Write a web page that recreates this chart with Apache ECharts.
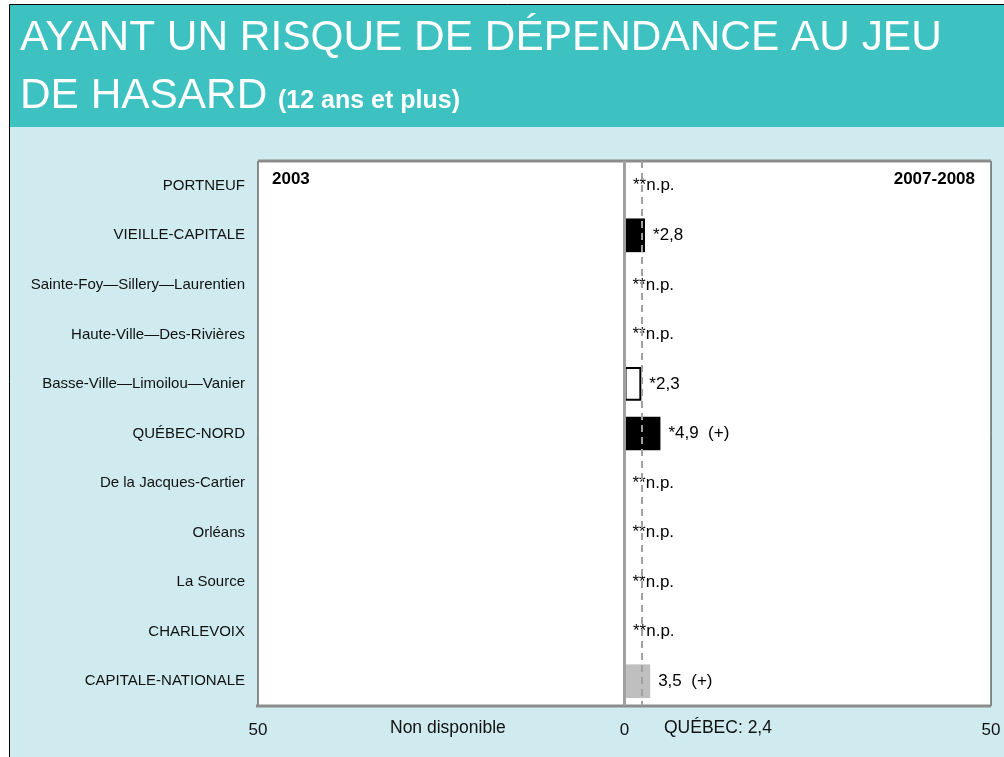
<!DOCTYPE html>
<html>
<head>
<meta charset="utf-8">
<script src="https://cdn.jsdelivr.net/npm/echarts@6/dist/echarts.min.js"></script>
<style>
  html, body { margin: 0; padding: 0; background: #ffffff; }
  #chart { width: 1004px; height: 757px; }
</style>
</head>
<body>
<div id="chart"></div>
<script>
// Territories, top to bottom
const categories = [
  'PORTNEUF',
  'VIEILLE-CAPITALE',
  'Sainte-Foy\u2014Sillery\u2014Laurentien',
  'Haute-Ville\u2014Des-Rivi\u00e8res',
  'Basse-Ville\u2014Limoilou\u2014Vanier',
  'QU\u00c9BEC-NORD',
  'De la Jacques-Cartier',
  'Orl\u00e9ans',
  'La Source',
  'CHARLEVOIX',
  'CAPITALE-NATIONALE'
];

// 2007-2008 proportions (%); 0 where the estimate is not published
const values2008 = [0, 2.8, 0, 0, 2.3, 4.9, 0, 0, 0, 0, 3.5];

// Text shown beside each 2007-2008 bar
const labels2008 = [
  '**n.p.', '*2,8', '**n.p.', '**n.p.', '*2,3', '*4,9  (+)',
  '**n.p.', '**n.p.', '**n.p.', '**n.p.', '3,5  (+)'
];

// Bar fill kind: 'black', 'white', 'grey', 'stub' (thin outline only), 'none'
const barKinds = [
  'stub', 'black', 'none', 'none', 'white', 'black',
  'none', 'none', 'none', 'stub', 'grey'
];

const quebecValue = 2.4;
const axisTicks = [-50, 0, 50];

const kindStyle = {
  black: { color: '#000000', borderColor: '#000000', borderWidth: 0 },
  white: { color: '#ffffff', borderColor: '#000000', borderWidth: 2 },
  grey:  { color: '#bfbfbf', borderColor: '#bfbfbf', borderWidth: 0 },
  stub:  { color: 'rgba(0,0,0,0)', borderColor: '#444444', borderWidth: 1 },
  none:  { color: 'rgba(0,0,0,0)', borderColor: 'rgba(0,0,0,0)', borderWidth: 0 }
};

const barData = values2008.map((v, i) => ({
  value: v,
  itemStyle: kindStyle[barKinds[i]],
  label: { formatter: labels2008[i] }
}));

const FONT = '"Liberation Sans", Arial, sans-serif';

const chart = echarts.init(document.getElementById('chart'));
chart.setOption({
  animation: false,
  backgroundColor: '#ffffff',
  graphic: [
    // outer panel
    { type: 'rect', z: -10, shape: { x: 9.5, y: 4.5, width: 1000, height: 760 },
      style: { fill: '#cfebef', stroke: '#000000', lineWidth: 1 } },
    // title banner
    { type: 'rect', z: -9, shape: { x: 10, y: 5, width: 994, height: 122 },
      style: { fill: '#3ec1c1' } },
    { type: 'text', left: 20, top: 17, z: 5,
      style: { text: 'AYANT UN RISQUE DE D\u00c9PENDANCE AU JEU', fill: '#ffffff',
               font: '42.4px ' + FONT } },
    { type: 'text', left: 20, top: 75, z: 5,
      style: { text: 'DE HASARD', fill: '#ffffff', font: '42.4px ' + FONT } },
    { type: 'text', left: 278, top: 89, z: 5,
      style: { text: '(12 ans et plus)', fill: '#ffffff', font: 'bold 25px ' + FONT } },
    // period headings inside the plot
    { type: 'text', left: 272, top: 171, z: 5,
      style: { text: '2003', fill: '#000000', font: 'bold 17px ' + FONT } },
    { type: 'text', right: 29, top: 171, z: 5,
      style: { text: '2007-2008', fill: '#000000', font: 'bold 17px ' + FONT } },
    // bottom captions
    { type: 'text', left: 390, top: 719, z: 5,
      style: { text: 'Non disponible', fill: '#111111', font: '17.5px ' + FONT } },
    { type: 'text', left: 664, top: 719, z: 5,
      style: { text: 'QU\u00c9BEC: 2,4', fill: '#111111', font: '17.5px ' + FONT } },
    // heavier top and bottom frame lines of the plot
    { type: 'line', z: 4, shape: { x1: 258, y1: 161, x2: 991, y2: 161 },
      style: { stroke: '#8c8c8c', lineWidth: 3 } },
    { type: 'line', z: 4, shape: { x1: 256, y1: 706, x2: 991, y2: 706 },
      style: { stroke: '#8c8c8c', lineWidth: 3 } }
  ],
  grid: {
    left: 258, right: 13, top: 161, bottom: 51,
    show: true, backgroundColor: '#ffffff', borderColor: '#222222', borderWidth: 1
  },
  xAxis: {
    type: 'value', min: -50, max: 50, interval: 50,
    axisLine: { show: false }, axisTick: { show: false }, splitLine: { show: false },
    axisLabel: {
      margin: 16, color: '#111111', fontSize: 17, fontFamily: FONT,
      formatter: v => axisTicks.includes(v) ? String(Math.abs(v)) : ''
    }
  },
  yAxis: {
    type: 'category', data: categories, inverse: true,
    axisLine: { show: false }, axisTick: { show: false },
    axisLabel: { margin: 13, color: '#111111', fontSize: 15, fontFamily: FONT }
  },
  series: [{
    type: 'bar',
    data: barData,
    barCategoryGap: '32%',
    label: {
      show: true, position: 'right', distance: 8,
      color: '#000000', fontSize: 17, fontFamily: FONT
    },
    markLine: {
      silent: true, symbol: 'none', label: { show: false },
      data: [
        { xAxis: 0, lineStyle: { color: '#a0a0a0', width: 3, type: 'solid' } },
        { xAxis: quebecValue, lineStyle: { color: '#a0a0a0', width: 2, type: [7, 5] } }
      ]
    }
  }]
});
</script>
</body>
</html>
